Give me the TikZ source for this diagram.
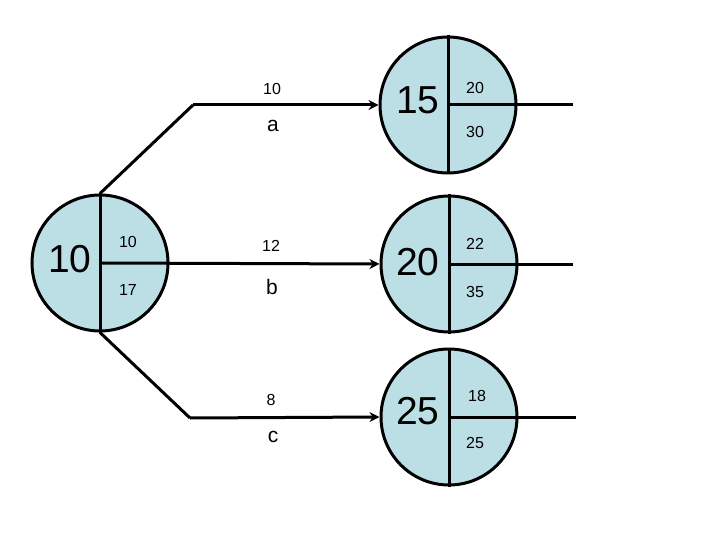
\documentclass[tikz,border=0pt]{standalone}
\usepackage{fontspec}
\setmainfont{Liberation Sans}
\usetikzlibrary{arrows.meta}
\definecolor{evfill}{RGB}{187,223,229}
\tikzset{
  event/.style={circle, draw=black, line width=3pt, fill=evfill, minimum size=136pt, inner sep=0pt},
  divider/.style={line width=3pt},
  conn/.style={line width=3pt},
  arr/.style={conn, -{Stealth[length=10pt,width=10pt]}},
  big/.style={font=\fontsize{39}{39}\selectfont, inner sep=0pt},
  small/.style={font=\fontsize{16}{16}\selectfont, inner sep=0pt},
  lbl/.style={font=\fontsize{21}{21}\selectfont, inner sep=0pt}
}
\begin{document}
\begin{tikzpicture}[x=1pt,y=-1pt]
\useasboundingbox (0,0) rectangle (720,540);
% events
\node[event] (L) at (100,263) {};
\node[event] (A) at (448,105) {};
\node[event] (B) at (449,264) {};
\node[event] (C) at (449,417) {};
% dividers
\foreach \n in {L,A,B,C}{
  \draw[divider] (\n.north) -- (\n.south);
}
% coordinates
\coordinate (ca) at (193,105);
\coordinate (cc) at (190,418);
\coordinate (ea) at (573,105);
\coordinate (eb) at (573,264);
\coordinate (ec) at (576,417);
% connectors
\draw[conn] (L.north) -- (ca);
\draw[arr] (ca) -- (A.west);
\draw[arr] (L.center) -- (B.west);
\draw[conn] (L.south) -- (cc);
\draw[arr] (cc) -- (C.west);
\draw[conn] (A.center) -- (ea);
\draw[conn] (B.center) -- (eb);
\draw[conn] (C.center) -- (ec);
% texts in events
\node[big] (Lt) at (70,259) {10};
\node[small] (Lu) at (128,242) {10};
\node[small] (Ld) at (128,290) {17};
\node[big] (At) at (418,100) {15};
\node[small] (Au) at (475,88) {20};
\node[small] (Ad) at (475,132) {30};
\node[big] (Bt) at (418,262) {20};
\node[small] (Bu) at (475,244) {22};
\node[small] (Bd) at (475,292) {35};
\node[big] (Ct) at (418,411) {25};
\node[small] (Cu) at (477,396) {18};
\node[small] (Cd) at (475,443) {25};
% activity labels
\node[small] (a1) at (272,89) {10};
\node[lbl] (a2) at (273,126) {a};
\node[small] (b1) at (271,246) {12};
\node[lbl] (b2) at (272,287) {b};
\node[small] (c1) at (271,400) {8};
\node[lbl] (c2) at (273,437) {c};
\end{tikzpicture}
\end{document}
